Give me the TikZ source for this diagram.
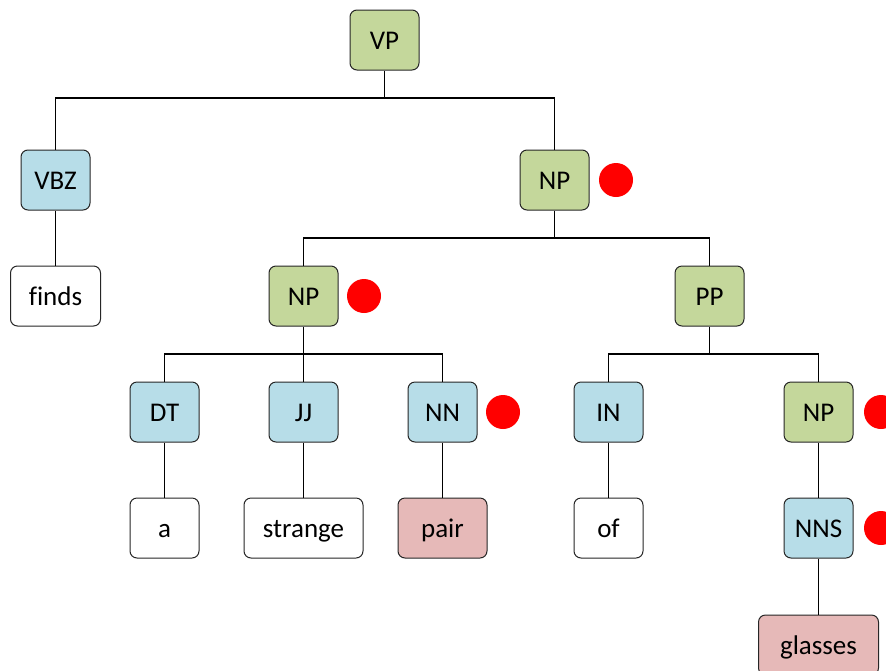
\documentclass[tikz,border=0pt]{standalone}
\usepackage{fontspec}
\setmainfont{Carlito}[Ligatures=NoCommon]
\definecolor{gr}{HTML}{C4D79B}
\definecolor{bl}{HTML}{B7DDE8}
\definecolor{pk}{HTML}{E6B9B8}
\definecolor{bd}{HTML}{262626}
\begin{document}
\begin{tikzpicture}[x=1pt,y=-1pt,
  box/.style={draw=bd,line width=1pt,rounded corners=7pt,minimum width=69pt,minimum height=60pt,inner sep=0pt,text height=20pt,text depth=1pt,font=\fontsize{27}{30}\selectfont,text=black},
  phr/.style={box,fill=gr},
  tag/.style={box,fill=bl},
  leaf/.style={box,fill=white},
  hl/.style={box,fill=pk},
  dot/.style={circle,fill=red,minimum size=34pt,inner sep=0pt},
  ln/.style={line width=1.6pt,black}]
\useasboundingbox (0,0) rectangle (886,670);
\node[phr] (VP) at (384.5,40) {VP};
\node[tag] (VBZ) at (55.5,180) {VBZ};
\node[phr] (NP1) at (554.5,180) {NP};
\node[leaf,minimum width=90pt] (finds) at (55.5,296) {finds};
\node[phr] (NP2) at (303.5,296) {NP};
\node[phr] (PP) at (709.5,296) {PP};
\node[tag] (DT) at (164.5,412) {DT};
\node[tag] (JJ) at (303.5,412) {JJ};
\node[tag] (NN) at (442.5,412) {NN};
\node[tag] (IN) at (608.5,412) {IN};
\node[phr] (NP3) at (818.5,412) {NP};
\node[leaf] (a) at (164.5,528) {a};
\node[leaf,minimum width=119pt] (strange) at (303.5,528) {strange};
\node[hl,minimum width=89pt] (pair) at (442.5,528) {pair};
\node[leaf] (of) at (608.5,528) {of};
\node[tag] (NNS) at (818.5,528) {NNS};
\node[hl,minimum width=120pt] (glasses) at (818.5,645) {glasses};
\node[dot] (d1) at (616,180) {};
\node[dot] (d2) at (364,296) {};
\node[dot] (d3) at (503,412) {};
\node[dot] (d4) at (881,412) {};
\node[dot] (d5) at (881,528) {};
\coordinate (b1) at (384.5,98);
\coordinate (b2) at (554.5,238);
\coordinate (b3) at (303.5,354);
\coordinate (b4) at (709.5,354);
\draw[ln] (VP.south) -- (b1);
\draw[ln] (VBZ.north) |- (b1) -| (NP1.north);
\draw[ln] (NP1.south) -- (b2);
\draw[ln] (NP2.north) |- (b2) -| (PP.north);
\draw[ln] (NP2.south) -- (b3);
\draw[ln] (DT.north) |- (b3) -| (NN.north);
\draw[ln] (JJ.north) -- (b3);
\draw[ln] (PP.south) -- (b4);
\draw[ln] (IN.north) |- (b4) -| (NP3.north);
\draw[ln] (VBZ.south) -- (finds.north);
\draw[ln] (DT.south) -- (a.north);
\draw[ln] (JJ.south) -- (strange.north);
\draw[ln] (NN.south) -- (pair.north);
\draw[ln] (IN.south) -- (of.north);
\draw[ln] (NP3.south) -- (NNS.north);
\draw[ln] (NNS.south) -- (glasses.north);
\end{tikzpicture}
\end{document}
